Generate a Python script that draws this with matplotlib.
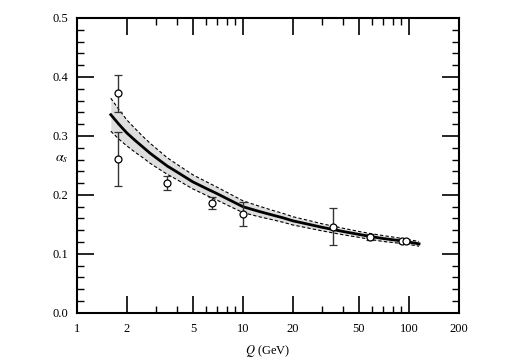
import numpy as np
import matplotlib
matplotlib.use("Agg")
import matplotlib.pyplot as plt
from matplotlib.ticker import FixedLocator, NullFormatter

plt.rcParams['font.family'] = ['Liberation Serif', 'DejaVu Serif']
plt.rcParams['mathtext.fontset'] = 'stix'

# running coupling curve
curve_q = [1.6, 1.8, 2.0, 2.25, 2.5, 2.75, 3.0, 3.5, 4.0, 4.5, 5.0, 6.0, 7.0, 8.5, 10.0,
           12.5, 15.0, 17.5, 20.0, 25.0, 30.0, 40.0, 50.0, 60.0, 70.0, 85.0, 100.0, 115.0]
curve_a = [0.336, 0.319, 0.305, 0.292, 0.281, 0.271, 0.263, 0.249, 0.239, 0.230, 0.222, 0.211, 0.202, 0.190, 0.180,
           0.172, 0.166, 0.161, 0.156, 0.150, 0.145, 0.138, 0.133, 0.129, 0.126, 0.123, 0.120, 0.117]
curve_err = [0.028, 0.025, 0.022, 0.020, 0.018, 0.017, 0.016, 0.014, 0.013, 0.0125, 0.012, 0.0115, 0.011, 0.0105, 0.010,
             0.009, 0.008, 0.0075, 0.007, 0.0065, 0.006, 0.0055, 0.005, 0.005, 0.005, 0.0045, 0.004, 0.004]

# measurements
pt_q = [1.77, 1.77, 3.5, 6.5, 10.0, 35.0, 58.0, 91.0, 96.0]
pt_a = [0.372, 0.261, 0.220, 0.186, 0.168, 0.146, 0.128, 0.122, 0.121]
pt_err = [0.032, 0.046, 0.012, 0.010, 0.020, 0.031, 0.005, 0.004, 0.003]

xtick_vals = [1, 2, 5, 10, 20, 50, 100, 200]
xtick_labels = ['1', '2', '5', '10', '20', '50', '100', '200']
ytick_vals = [0.0, 0.1, 0.2, 0.3, 0.4, 0.5]

fig = plt.figure(figsize=(5.06, 3.6), dpi=100)
ax = fig.add_axes([0.152, 0.131, 0.755, 0.819])

q = np.array(curve_q)
a = np.array(curve_a)
e = np.array(curve_err)
ax.fill_between(q, a - e, a + e, color='#dedede', lw=0, zorder=1)
ax.plot(q, a + e, color='black', lw=0.8, ls=(0, (3, 2)), zorder=2)
ax.plot(q, a - e, color='black', lw=0.8, ls=(0, (3, 2)), zorder=2)
ax.plot(q, a, color='black', lw=2.0, zorder=3)

ax.errorbar(pt_q, pt_a, yerr=pt_err, fmt='o', ms=5, mfc='white', mec='black',
            mew=0.9, ecolor='#333333', elinewidth=1.0, capsize=3, capthick=1.0, zorder=4)

ax.set_xscale('log')
ax.set_xlim(1, 200)
ax.set_ylim(0, 0.5)

minor_x = [3, 4, 6, 7, 8, 9, 30, 40, 60, 70, 80, 90]
ax.xaxis.set_major_locator(FixedLocator(xtick_vals))
ax.xaxis.set_minor_locator(FixedLocator(minor_x))
ax.xaxis.set_minor_formatter(NullFormatter())
ax.set_xticklabels(xtick_labels)
ax.set_yticks(ytick_vals)
ax.set_yticklabels(['%.1f' % v for v in ytick_vals])
ax.set_yticks(np.arange(0, 0.5, 0.02), minor=True)

ax.tick_params(which='both', direction='in', top=True, right=True, labelsize=9)
ax.tick_params(axis='x', which='major', pad=7)
ax.tick_params(axis='y', which='major', pad=6)
ax.tick_params(which='major', length=12, width=1.2)
ax.tick_params(which='minor', length=5, width=1.0)
for s in ax.spines.values():
    s.set_linewidth(1.5)

ax.set_xlabel(r'$Q$ (GeV)', fontsize=9, labelpad=6)
ax.set_ylabel(r'$\alpha_s$', fontsize=10, rotation=0)
ax.yaxis.set_label_coords(-0.04, 0.5)

fig.savefig('out.png', dpi=100)
